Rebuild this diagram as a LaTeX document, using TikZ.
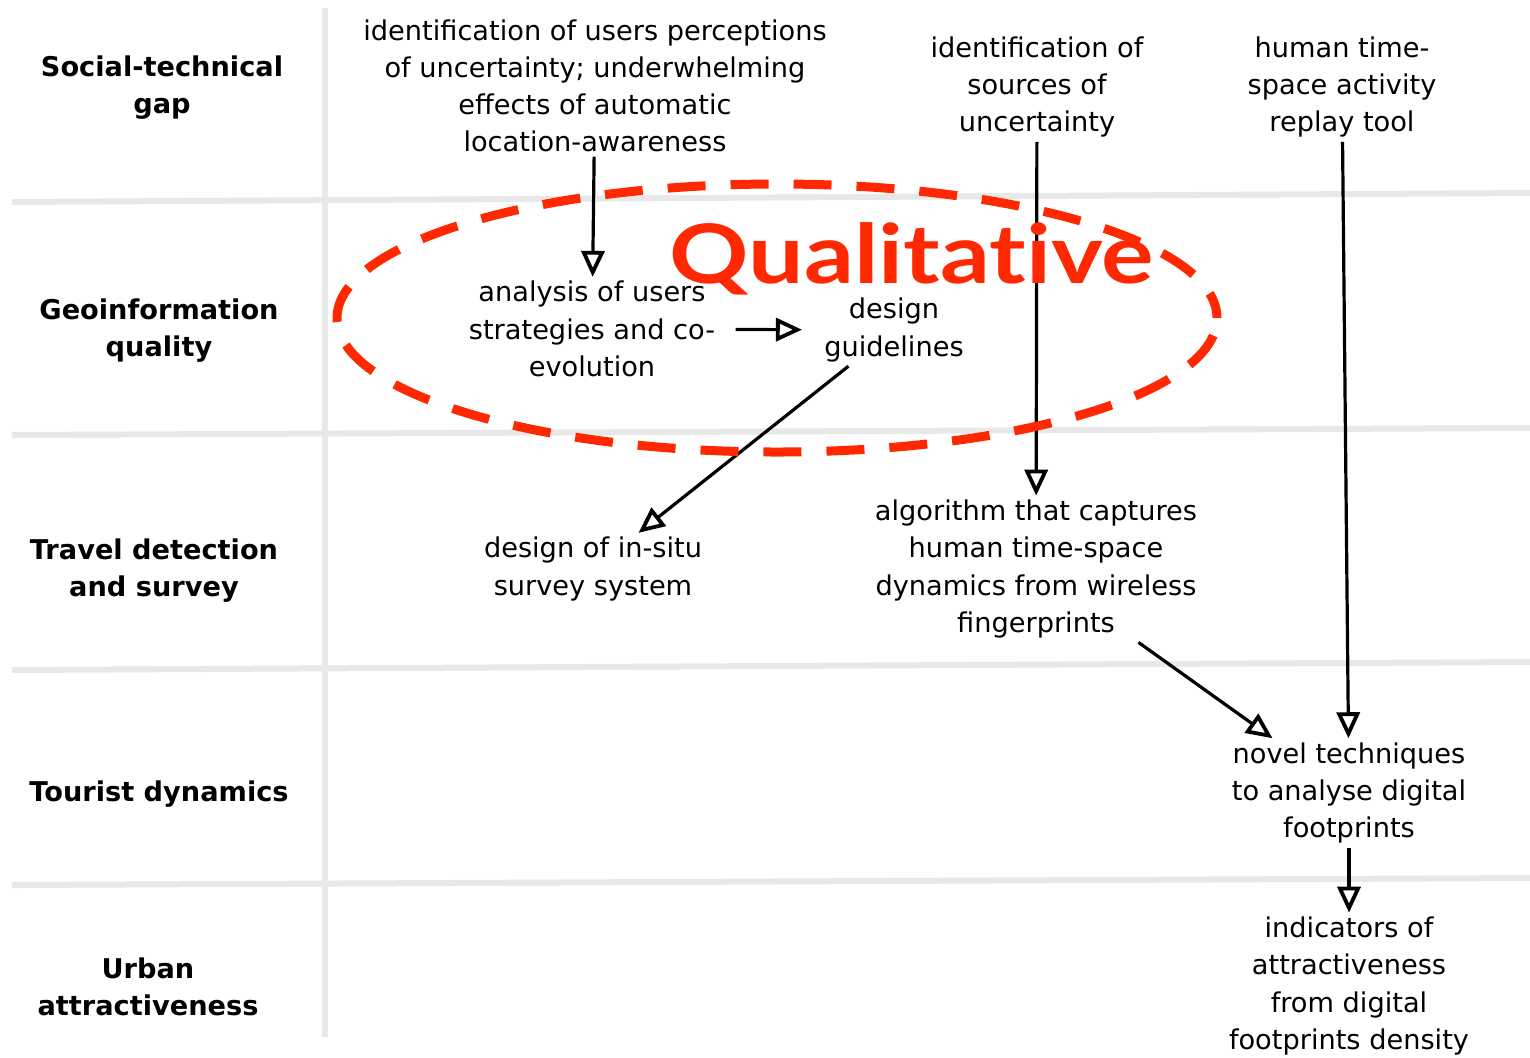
\documentclass[tikz,border=0pt]{standalone}
\usepackage{fontspec}
\setmainfont{DejaVu Sans}
\newfontfamily\qualfont[Ligatures=NoCommon]{Lato}
\usetikzlibrary{arrows.meta}
\definecolor{gridgray}{RGB}{232,232,232}
\definecolor{qred}{RGB}{255,40,0}
\begin{document}
\begin{tikzpicture}[x=0.5pt,y=-0.5pt,
  gridline/.style={line width=3pt,draw=gridgray},
  rowlabel/.style={font=\bfseries\fontsize{13.6}{18.5}\selectfont,align=center,inner sep=1pt},
  item/.style={font=\fontsize{13.6}{18.6}\selectfont,align=center,inner sep=2pt},
  flow/.style={-{Triangle[open,length=13pt,width=11.5pt,line width=1.9pt]},line width=1.6pt},
  quallabel/.style={font=\qualfont\bfseries\fontsize{41}{41}\selectfont,text=qred,inner sep=0pt}]
\useasboundingbox[fill=white] (0,0) rectangle (1530,1057);

% table grid
\draw[gridline] (325,8) -- (325,1037);
\draw[gridline] (12,202) -- (1530,193);
\draw[gridline] (12,435) -- (1530,428);
\draw[gridline] (12,670) -- (1530,662);
\draw[gridline] (12,885) -- (1530,878);

% row labels
\node[rowlabel] (r1) at (162,88) {Social-technical\\gap};
\node[rowlabel] (r2) at (159,331) {Geoinformation\\quality};
\node[rowlabel] (r3) at (154,571) {Travel detection\\and survey};
\node[rowlabel] (r4) at (159,794) {Tourist dynamics};
\node[rowlabel] (r5) at (148,987) {Urban\\attractiveness};

% items
\node[item] (a) at (595,86) {identification of users perceptions\\of uncertainty; underwhelming\\effects of automatic\\location-awareness};
\node[item] (b) at (1037,87) {identification of\\sources of\\uncertainty};
\node[item] (c) at (1342,87) {human time-\\space activity\\replay tool};
\node[item] (d) at (592,329) {analysis of users\\strategies and co-\\evolution};
\node[item] (e) at (894,330) {design\\guidelines};
\node[item] (f) at (593,569) {design of in-situ\\survey system};
\node[item] (g) at (1036,569) {algorithm that captures\\human time-space\\dynamics from wireless\\fingerprints};
\node[item] (h) at (1349,793) {novel techniques\\to analyse digital\\footprints};
\node[item] (i) at (1349,986) {indicators of\\attractiveness\\from digital\\footprints density};

% connectors
\draw[flow] (a) -- (d);
\draw[flow,shorten <=8pt,shorten >=9pt] (d) -- (e);
\draw[flow] (e) -- (f);
\draw[flow] (b) -- (g);
\draw[flow] (c) -- (h);
\draw[flow] (g) -- (h);
\draw[flow] (h) -- (i);

% qualitative group
\draw[qred,line width=4.5pt,dash pattern=on 19pt off 12.5pt,dash phase=6pt]
  (777,318) ellipse [x radius=220pt,y radius=67pt];
\node[quallabel,anchor=base] (q) at (912,283) {\scalebox{1.2}[1]{Qualitative}};
\end{tikzpicture}
\end{document}
